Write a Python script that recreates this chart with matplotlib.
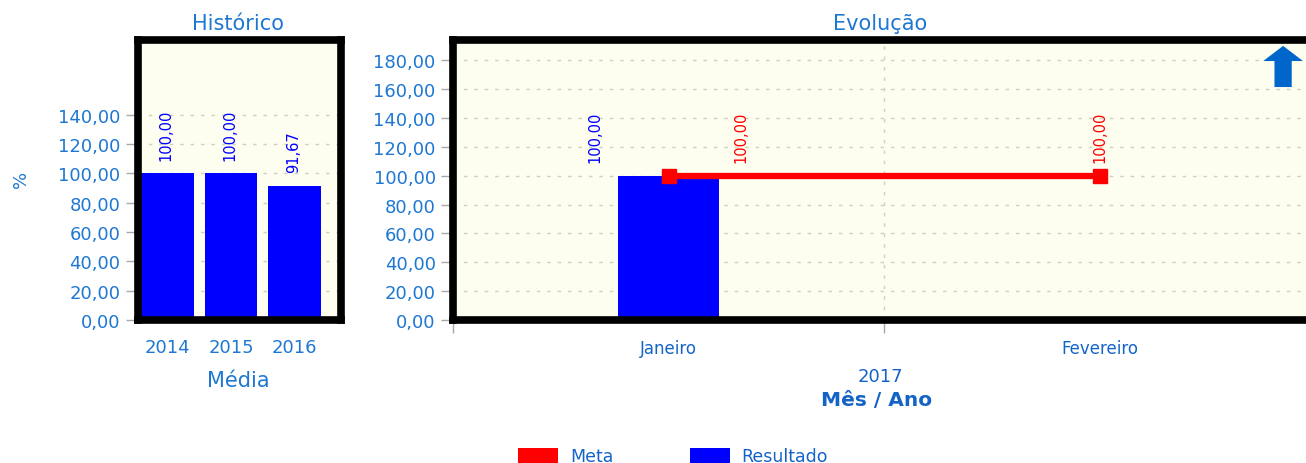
import matplotlib
matplotlib.use("Agg")
from matplotlib import pyplot as plt
from matplotlib.patches import Patch, Polygon

# data
hist_years = ["2014", "2015", "2016"]
hist_values = [100.00, 100.00, 91.67]

months = ["Janeiro", "Fevereiro"]
resultado = [100.00, None]
meta = [100.00, 100.00]

hist_yticks = [0, 20, 40, 60, 80, 100, 120, 140]
evo_yticks = [0, 20, 40, 60, 80, 100, 120, 140, 160, 180]

BLUE_TXT = "#1e78d2"
DARK_TXT = "#1464c8"
FACE = "#fefef0"
GRID = "#d0d0c0"


def fmt(v):
    return f"{v:.2f}".replace(".", ",")


def style_axes(ax, yticks):
    ax.set_facecolor(FACE)
    for s in ax.spines.values():
        s.set_linewidth(5.5)
        s.set_color("black")
        s.set_zorder(5)
    ax.set_yticks(yticks)
    ax.set_yticklabels([fmt(v) for v in yticks])
    ax.tick_params(axis="y", length=9, width=1, color="#a8a8a8", pad=3.5,
                   labelsize=13, labelcolor=BLUE_TXT)
    ax.yaxis.grid(True, color=GRID, linestyle=(0, (2.5, 5)), linewidth=1)
    ax.set_axisbelow(True)


fig = plt.figure(figsize=(13.06, 4.64), dpi=100)

# --- Histórico ---
ax1 = fig.add_axes([137.5 / 1306, 143 / 464, 203.5 / 1306, 280 / 464])
style_axes(ax1, hist_yticks)
xs = list(range(len(hist_years)))
ax1.bar(xs, hist_values, width=0.83, color="#0000ff", zorder=2)
ax1.set_xlim(-0.47, 2.73)
ax1.set_ylim(0, 191)
ax1.set_xticks(xs)
ax1.set_xticklabels(hist_years)
ax1.tick_params(axis="x", length=0, pad=13, labelsize=13, labelcolor=BLUE_TXT)
for x, v in zip(xs, hist_values):
    ax1.annotate(fmt(v), (x, v), xytext=(-1, 10), textcoords="offset points",
                 rotation=90, ha="center", va="bottom", fontsize=10.5,
                 color="#0000ff")

# --- Evolução ---
ax2 = fig.add_axes([453 / 1306, 143 / 464, 862 / 1306, 280 / 464])
style_axes(ax2, evo_yticks)
mx = list(range(len(months)))
res_x = [x for x, v in zip(mx, resultado) if v is not None]
res_v = [v for v in resultado if v is not None]
ax2.bar(res_x, res_v, width=0.236, color="#0000ff", zorder=2)
ax2.plot(mx, meta, color="#ff0000", linewidth=4.5, marker="s",
         markersize=10.5, zorder=3)
ax2.set_xlim(-0.5, 1.5)
ax2.set_ylim(0, 194)
ax2.set_xticks([-0.5, 0.5, 1.5])
ax2.set_xticklabels([])
ax2.set_xticks(mx, minor=True)
ax2.set_xticklabels(months, minor=True)
ax2.tick_params(axis="x", which="major", length=9, width=1, color="#a8a8a8")
ax2.tick_params(axis="x", which="minor", length=0, pad=14, labelsize=12,
                labelcolor=DARK_TXT)
ax2.xaxis.grid(True, which="major", color=GRID, linestyle=(0, (2.5, 5)),
               linewidth=1)

for x, r, m in zip(mx, resultado, meta):
    both = r is not None and m is not None
    if r is not None:
        ax2.annotate(fmt(r), (x, r), xytext=(-53 if both else 0, 10),
                     textcoords="offset points", rotation=90, ha="center",
                     va="bottom", fontsize=10.5, color="#0000ff")
    if m is not None:
        ax2.annotate(fmt(m), (x, m), xytext=(52 if both else 0, 10),
                     textcoords="offset points", rotation=90, ha="center",
                     va="bottom", fontsize=10.5, color="#ff0000")

# trend arrow
arrow = Polygon([(0.963, 0.979), (0.986, 0.925), (0.973, 0.925),
                 (0.973, 0.832), (0.953, 0.832), (0.953, 0.925),
                 (0.940, 0.925)], closed=True, transform=ax2.transAxes,
                facecolor="#0066cc", edgecolor="none", zorder=6)
ax2.add_patch(arrow)

# titles and labels
fig.text(238 / 1306, 1 - 24 / 464, "Histórico", ha="center", va="center",
         fontsize=15, color=BLUE_TXT)
fig.text(880 / 1306, 1 - 24 / 464, "Evolução", ha="center", va="center",
         fontsize=15, color=BLUE_TXT)
fig.text(21 / 1306, 1 - 179 / 464, "%", ha="center", va="center",
         rotation=90, fontsize=13, color=BLUE_TXT)
fig.text(238 / 1306, 1 - 381 / 464, "Média", ha="center", va="center",
         fontsize=15, color=BLUE_TXT)
fig.text(880 / 1306, 1 - 377 / 464, "2017", ha="center", va="center",
         fontsize=13, color=DARK_TXT)
fig.text(877 / 1306, 1 - 401 / 464, "Mês / Ano", ha="center", va="center",
         fontsize=14.5, fontweight="bold", color=DARK_TXT)

handles = [Patch(facecolor="#ff0000", edgecolor="none"),
           Patch(facecolor="#0000ff", edgecolor="none")]
fig.legend(handles, ["Meta", "Resultado"], loc="center",
           bbox_to_anchor=(673 / 1306, 1 - 457 / 464), ncol=2, frameon=False,
           fontsize=12.5, labelcolor=DARK_TXT, handlelength=2.3,
           handleheight=0.95, handletextpad=0.7, columnspacing=4.4,
           borderpad=0)

fig.savefig("out.png", dpi=100, facecolor="white")
